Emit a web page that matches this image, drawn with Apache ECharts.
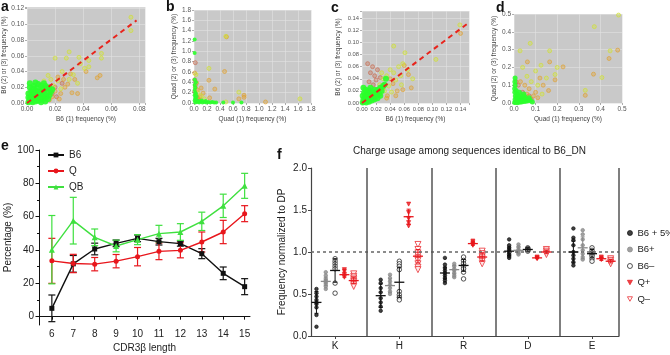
<!DOCTYPE html>
<html lang="en">
<head>
<meta charset="UTF-8">
<style>
html, body { height: 100%; margin: 0; background: #fff; }
</style>
</head>
<body>
<div id="chart" style="width:670px;height:355px;"></div>
<script src="https://cdn.jsdelivr.net/npm/echarts@6/dist/echarts.min.js"></script>
<script>
// ---- panel a-d: frequency scatter ----
var greenA = [[0.001,0.001],[0.002,0.002],[0.003,0.003],[0.004,0.004],[0.005,0.005],[0.006,0.006],[0.007,0.008],[0.008,0.009],[0.009,0.011],[0.010,0.012],[0.011,0.014],[0.012,0.015],[0.013,0.017],[0.014,0.019],
  [0.002,0.005],[0.003,0.008],[0.004,0.011],[0.005,0.013],[0.006,0.016],[0.007,0.019],[0.003,0.015],[0.002,0.020],[0.005,0.022],[0.008,0.024],[0.001,0.012],[0.001,0.007],
  [0.004,0.001],[0.006,0.002],[0.008,0.003],[0.010,0.004],[0.012,0.006],[0.014,0.008],[0.016,0.010],[0.017,0.014],[0.015,0.013],[0.013,0.010],[0.011,0.008],[0.009,0.006],[0.007,0.004],
  [0.009,0.015],[0.011,0.019],[0.013,0.022],[0.010,0.001],[0.013,0.002],[0.015,0.005],[0.006,0.012],[0.008,0.014],[0.004,0.018],[0.010,0.022],[0.016,0.020],[0.018,0.017],[0.012,0.025],[0.006,0.026],[0.002,0.025]];
var yellowA = [[0.074,0.109],[0.074,0.092],[0.053,0.063],[0.053,0.057],[0.044,0.054],[0.044,0.046],[0.037,0.058],[0.038,0.050],[0.030,0.065],[0.028,0.057],[0.036,0.025],[0.020,0.057],[0.025,0.040],[0.017,0.030],[0.015,0.035],[0.022,0.028],[0.019,0.022],[0.012,0.028],[0.024,0.018],[0.030,0.030],[0.033,0.036],[0.041,0.044]];
var orangeA = [[0.050,0.032],[0.052,0.035],[0.036,0.012],[0.032,0.013],[0.027,0.020],[0.024,0.012],[0.022,0.033],[0.029,0.024],[0.031,0.037],[0.026,0.030],[0.020,0.015],[0.018,0.008],[0.034,0.030],[0.042,0.040],[0.023,0.005],[0.016,0.004]];
var redA = [[0.014,0.010],[0.018,0.012],[0.012,0.004],[0.020,0.020],[0.016,0.018],[0.021,0.008],[0.010,0.016],[0.025,0.025]];
var fitA = [[0,0],[0.078,0.105]];

var greenB = [[0.02,0.01],[0.05,0.02],[0.08,0.01],[0.10,0.03],[0.13,0.01],[0.16,0.02],[0.19,0.01],[0.22,0.02],[0.25,0.01],[0.28,0.02],[0.31,0.01],[0.34,0.01],[0.04,0.05],[0.07,0.04],[0.12,0.05],[0.18,0.04],[0.45,0.01],[0.60,0.01],[0.73,0.01],
  [0.01,0.05],[0.02,0.10],[0.01,0.15],[0.02,0.20],[0.01,0.25],[0.02,0.30],[0.01,0.35],[0.03,0.40],[0.01,0.45],[0.02,0.08],[0.04,0.12],[0.03,0.18],[0.01,0.97],[0.01,1.23]];
var yellowB = [[0.49,1.29],[0.23,0.67],[0.69,0.21],[0.49,0.02],[1.63,0.08],[0.16,0.08],[0.11,0.14],[0.06,0.20],[0.03,0.55]];
var orangeB = [[0.50,1.28],[0.47,0.61],[0.23,0.44],[0.32,0.27],[0.11,0.29],[0.14,0.19],[0.09,0.12],[0.24,0.10],[0.77,0.15],[0.77,0.11],[0.69,0.08],[1.10,0.02],[0.01,0.58],[0.04,0.39],[0.02,0.30],[0.05,0.25],[0.08,0.06]];
var redB = [[0.02,0.78],[0.01,0.45],[0.02,0.35],[0.01,0.22],[0.03,0.15],[0.06,0.10],[0.04,0.05]];

var greenC = [[0.001,0.001],[0.003,0.002],[0.005,0.004],[0.007,0.006],[0.009,0.008],[0.011,0.010],[0.013,0.012],[0.015,0.014],[0.017,0.016],[0.019,0.018],[0.021,0.020],[0.023,0.022],
  [0.002,0.006],[0.004,0.010],[0.006,0.014],[0.008,0.018],[0.010,0.021],[0.003,0.017],[0.001,0.012],[0.005,0.022],[0.012,0.025],[0.002,0.025],
  [0.006,0.001],[0.010,0.002],[0.014,0.004],[0.018,0.006],[0.022,0.008],[0.026,0.012],[0.016,0.009],[0.012,0.006],[0.020,0.012],[0.024,0.016],[0.028,0.020],[0.030,0.028],[0.026,0.025],[0.018,0.022],[0.008,0.012],[0.014,0.018],[0.034,0.040],[0.032,0.030]];
var yellowC = [[0.139,0.129],[0.105,0.072],[0.045,0.094],[0.061,0.083],[0.058,0.065],[0.052,0.060],[0.045,0.050],[0.040,0.055],[0.035,0.045],[0.030,0.040],[0.048,0.038],[0.056,0.030],[0.038,0.028],[0.065,0.055],[0.072,0.040],[0.028,0.050],[0.025,0.030],[0.032,0.020],[0.042,0.018],[0.055,0.045]];
var orangeC = [[0.140,0.115],[0.060,0.062],[0.066,0.047],[0.050,0.020],[0.044,0.032],[0.036,0.012],[0.030,0.025],[0.058,0.022],[0.040,0.040],[0.025,0.015],[0.020,0.020],[0.048,0.012],[0.070,0.025],[0.035,0.008]];
var redC = [[0.008,0.065],[0.015,0.060],[0.012,0.050],[0.018,0.045],[0.010,0.035],[0.020,0.038],[0.022,0.055],[0.016,0.030],[0.026,0.042]];
var fitC = [[0,0],[0.152,0.133]];

var greenD = [[0.003,0.003],[0.008,0.005],[0.013,0.008],[0.018,0.012],[0.023,0.016],[0.028,0.020],[0.033,0.024],[0.038,0.028],[0.043,0.032],[0.050,0.036],
  [0.005,0.020],[0.006,0.040],[0.004,0.060],[0.003,0.080],[0.005,0.100],[0.004,0.120],[0.005,0.140],[0.012,0.030],[0.015,0.050],[0.010,0.070],[0.020,0.040],[0.025,0.060],
  [0.015,0.002],[0.025,0.004],[0.035,0.006],[0.045,0.008],[0.055,0.010],[0.065,0.012],[0.040,0.015],[0.030,0.010],[0.060,0.020],[0.050,0.025],[0.020,0.025],[0.035,0.040],[0.045,0.050],[0.075,0.015],[0.085,0.005],[0.070,0.030]];
var yellowD = [[0.484,0.494],[0.372,0.429],[0.445,0.293],[0.407,0.143],[0.330,0.071],[0.165,0.293],[0.125,0.212],[0.028,0.293],[0.075,0.335],[0.100,0.180],[0.150,0.140],[0.190,0.160],[0.060,0.150],[0.110,0.100],[0.080,0.120],[0.130,0.050],[0.200,0.200],[0.040,0.200]];
var orangeD = [[0.480,0.297],[0.440,0.250],[0.368,0.162],[0.330,0.043],[0.227,0.203],[0.165,0.231],[0.190,0.130],[0.062,0.231],[0.135,0.100],[0.100,0.060],[0.070,0.080],[0.050,0.100],[0.120,0.140],[0.090,0.040],[0.030,0.120],[0.060,0.050],[0.160,0.070],[0.110,0.030]];
var redD = [[0.020,0.100],[0.040,0.060],[0.030,0.030],[0.050,0.020],[0.080,0.020],[0.010,0.120],[0.070,0.040]];

// ---- panel e: CDR3 length ----
var lengths = [6, 7, 8, 9, 10, 11, 12, 13, 14, 15];
var b6Mean = [5, 31.7, 40.6, 44, 47, 45, 43.8, 37.8, 26, 18];
var b6Err = [8, 5, 3.5, 2, 2, 2, 1.5, 3, 3.8, 4.8];
var qMean = [33.5, 31.9, 31.5, 33.3, 36, 39.2, 39.8, 44.8, 50.8, 61.8];
var qErr = [13.5, 5.5, 4, 4, 5.5, 5, 4.5, 6, 7, 4.8];
var qbMean = [40.2, 57.6, 47.6, 42.4, 46.2, 49.8, 50.8, 57.2, 66.5, 78.5];
var qbErr = [20.5, 14, 5, 3.5, 3, 5, 5, 5.5, 7, 7.5];
var eTicks = [0, 20, 40, 60, 80, 100];
var eMinor = [10, 30, 50, 70, 90];

// ---- panel f: charge usage (one list per residue: K, H, R, D, E) ----
var fCats = ['K', 'H', 'R', 'D', 'E'];
var fGroups = ['B6 + 5%', 'B6+', 'B6\u2013', 'Q+', 'Q\u2013'];
var fB6p5 = [[0.56,0.51,0.47,0.43,0.40,0.38,0.34,0.25,0.11],[0.67,0.63,0.57,0.52,0.45,0.40,0.35,0.30],[0.93,0.85,0.81,0.78,0.75,0.72,0.69,0.66,0.63],[1.15,1.08,1.05,1.03,1.01,0.99,0.97,0.95,0.93],[1.28,1.17,1.14,1.08,1.00,0.96,0.92,0.88,0.84]];
var fB6pos = [[0.76,0.72,0.68,0.66,0.64,0.62,0.59,0.56],[0.73,0.69,0.65,0.61,0.57,0.53,0.50],[0.86,0.83,0.80,0.78,0.75,0.72,0.70],[1.09,1.06,1.03,1.01,0.99,0.97],[1.26,1.21,1.15,1.08,1.02,0.98,0.94,0.91]];
var fB6neg = [[0.92,0.89,0.86,0.83,0.80,0.63,0.51],[0.89,0.86,0.83,0.79,0.53,0.49,0.46,0.43],[0.94,0.90,0.86,0.83,0.80,0.76,0.68],[1.05,1.04,1.03,1.02,1.01],[1.05,1.02,0.99,0.97,0.95,0.92,0.89]];
var fQpos = [[0.79,0.77,0.73,0.70],[1.57,1.47,1.40,1.35,1.31],[1.13,1.11,1.09,1.08],[0.94,0.93,0.92],[0.94,0.92,0.91]];
var fQneg = [[0.74,0.71,0.69,0.67,0.65,0.63,0.61,0.59],[1.09,1.03,0.99,0.96,0.93,0.90,0.86,0.82,0.79],[1.01,0.98,0.95,0.93,0.91,0.89,0.86],[1.03,1.01,0.99,0.97],[0.92,0.90,0.88,0.86]];
var fMean = [[0.40,0.48,0.75,1.01,1.00],[0.65,0.60,0.79,1.02,1.05],[0.78,0.64,0.84,1.03,0.98],[0.73,1.42,1.10,0.93,0.92],[0.66,0.95,0.94,1.00,0.89]];
var fSd = [[0.13,0.14,0.07,0.05,0.13],[0.05,0.08,0.05,0.04,0.13],[0.14,0.18,0.07,0.02,0.05],[0.03,0.09,0.02,0.01,0.02],[0.04,0.08,0.05,0.02,0.02]];

var FONT = 'Liberation Sans, Arial, sans-serif';
var TRI_DOWN = 'path://M0,0L10,0L5,9Z';
var myChart = echarts.init(document.getElementById('chart'));

// scatter panel layout
var panels = [
    { grid: {left: 27, top: 7, width: 118, height: 96}, xMax: 0.084, yMax: 0.122, step: 0.02, d: 2, fs: 6.5, xName: 'B6 (1) frequency (%)', yName: 'B6 (2) or (3) frequency (%)', yGap: 18, gSize: 6,
      green: greenA, yellow: yellowA, orange: orangeA, red: redA, fit: fitA },
    { grid: {left: 194, top: 10, width: 117, height: 93}, xMax: 1.8, yMax: 1.8, step: 0.2, d: 1, fs: 6.5, xName: 'Quad (1) frequency (%)', yName: 'Quad (2) or (3) frequency (%)', yGap: 16, gSize: 4,
      green: greenB, yellow: yellowB, orange: orangeB, red: redB },
    { grid: {left: 362, top: 11, width: 107, height: 92}, xMax: 0.152, yMax: 0.152, step: 0.02, d: 2, fs: 5.8, xName: 'B6 (1) frequency (%)', yName: 'B6 (2) or (3) frequency (%)', yGap: 20, gSize: 6,
      green: greenC, yellow: yellowC, orange: orangeC, red: redC, fit: fitC },
    { grid: {left: 514, top: 14, width: 108, height: 89}, xMax: 0.5, yMax: 0.5, step: 0.1, d: 1, fs: 6.5, xName: 'Quad (1) frequency (%)', yName: 'Quad (2) or (3) frequency (%)', yGap: 15, gSize: 5,
      green: greenD, yellow: yellowD, orange: orangeD, red: redD }
];

var grids = [], xAxes = [], yAxes = [], series = [];

function tickFmt(step, d) {
    return function (v) {
        var r = v / step;
        return Math.abs(r - Math.round(r)) < 1e-6 ? v.toFixed(d) : '';
    };
}

function dots(name, data, idx, color, fill, size) {
    return {
        name: name, type: 'scatter', xAxisIndex: idx, yAxisIndex: idx, data: data,
        symbolSize: size, silent: true,
        itemStyle: {color: fill, borderColor: color, borderWidth: 0.8}
    };
}

panels.forEach(function (p, i) {
    grids.push(Object.assign({show: true, backgroundColor: '#c9c9c9', borderWidth: 0, outerBoundsMode: 'none'}, p.grid));
    var ax = {
        gridIndex: i, type: 'value', min: 0, interval: p.step,
        nameLocation: 'middle', nameTextStyle: {fontSize: 6.5, color: '#444', fontFamily: FONT},
        axisLine: {show: false},
        axisTick: {show: true, length: 2, lineStyle: {color: '#777', width: 0.6}},
        axisLabel: {fontSize: p.fs, color: '#555', margin: 3, fontFamily: FONT, hideOverlap: false, formatter: tickFmt(p.step, p.d)},
        splitLine: {show: true, lineStyle: {color: '#e2e2e2', width: 0.6}}
    };
    xAxes.push(Object.assign({}, ax, {max: p.xMax, name: p.xName, nameGap: 13}));
    yAxes.push(Object.assign({}, ax, {max: p.yMax, name: p.yName, nameGap: p.yGap}));
    series.push(dots('red' + i, p.red, i, '#c86a50', 'rgba(200,110,80,0.45)', 4));
    series.push(dots('orange' + i, p.orange, i, '#e0a030', 'rgba(224,160,48,0.45)', 4));
    series.push(dots('yellow' + i, p.yellow, i, '#cfe030', 'rgba(210,230,60,0.45)', 4));
    series.push({
        name: 'green' + i, type: 'scatter', xAxisIndex: i, yAxisIndex: i, data: p.green,
        symbolSize: p.gSize, silent: true, itemStyle: {color: '#2bff2b', opacity: 0.9}
    });
    if (p.fit) {
        series.push({
            name: 'fit' + i, type: 'line', xAxisIndex: i, yAxisIndex: i, data: p.fit,
            symbol: 'none', silent: true,
            lineStyle: {color: '#e8241c', width: 2, type: [5, 4]}
        });
    }
});

// ---- panel e ----
var E = grids.length;
grids.push({left: 39, top: 150, width: 211, height: 175, outerBoundsMode: 'none'});
xAxes.push({
    gridIndex: E, type: 'value', min: 5.4, max: 15.25,
    name: 'CDR3\u03b2 length', nameLocation: 'middle', nameGap: 18,
    nameTextStyle: {fontSize: 10, color: '#222', fontFamily: FONT},
    axisLine: {lineStyle: {color: '#111', width: 1}},
    axisTick: {length: 3, customValues: lengths, lineStyle: {color: '#111'}},
    axisLabel: {fontSize: 10, color: '#222', margin: 4, customValues: lengths, fontFamily: FONT},
    splitLine: {show: false}
});
yAxes.push({
    gridIndex: E, type: 'value', min: -5, max: 100, position: 'left',
    name: 'Percentage (%)', nameLocation: 'middle', nameGap: 24,
    nameTextStyle: {fontSize: 10, color: '#222', fontFamily: FONT},
    axisLine: {show: true, lineStyle: {color: '#111', width: 1}},
    axisTick: {length: 3.5, customValues: eTicks, lineStyle: {color: '#111'}},
    axisLabel: {fontSize: 10, color: '#222', margin: 5, customValues: eTicks, fontFamily: FONT},
    splitLine: {show: false}
});
yAxes.push({
    gridIndex: E, type: 'value', min: -5, max: 100, position: 'left', offset: 0,
    axisLine: {show: false},
    axisTick: {length: 2, customValues: eMinor, lineStyle: {color: '#111'}},
    axisLabel: {show: false},
    splitLine: {show: false}
});

function pairs(xs, ys) {
    return xs.map(function (x, k) { return [x, ys[k]]; });
}

function errRender(color, cap) {
    return function (params, api) {
        var x = api.value(0), m = api.value(1), e = api.value(2);
        var top = api.coord([x, m + e]);
        var bot = api.coord([x, m - e]);
        var st = {stroke: color, lineWidth: 1.2};
        return {
            type: 'group', children: [
                {type: 'line', shape: {x1: top[0], y1: top[1], x2: bot[0], y2: bot[1]}, style: st},
                {type: 'line', shape: {x1: top[0] - cap, y1: top[1], x2: top[0] + cap, y2: top[1]}, style: st},
                {type: 'line', shape: {x1: bot[0] - cap, y1: bot[1], x2: bot[0] + cap, y2: bot[1]}, style: st}
            ]
        };
    };
}

var eSeries = [
    {name: 'B6', mean: b6Mean, err: b6Err, color: '#111111', symbol: 'rect', size: 5},
    {name: 'Q', mean: qMean, err: qErr, color: '#e8161c', symbol: 'circle', size: 5},
    {name: 'QB', mean: qbMean, err: qbErr, color: '#3fe03f', symbol: 'triangle', size: 6}
];
eSeries.forEach(function (s) {
    series.push({
        name: s.name + ' err', type: 'custom', xAxisIndex: E, yAxisIndex: E, silent: true,
        renderItem: errRender(s.color, 3.5),
        data: lengths.map(function (x, k) { return [x, s.mean[k], s.err[k]]; }),
        z: 2
    });
    series.push({
        name: s.name, type: 'line', xAxisIndex: E, yAxisIndex: E, data: pairs(lengths, s.mean),
        symbol: s.symbol, symbolSize: s.size, showSymbol: true, silent: true,
        lineStyle: {color: s.color, width: 1.4}, itemStyle: {color: s.color}, z: 3
    });
});

// ---- panel f ----
var F = grids.length;
var FY = yAxes.length;
var fPos = [1, 2, 3, 4, 5];
grids.push({left: 311, top: 168, width: 308, height: 168, outerBoundsMode: 'none'});
xAxes.push({
    gridIndex: F, type: 'value', min: 0.625, max: 5.42,
    axisLine: {lineStyle: {color: '#444', width: 1.2}},
    axisTick: {length: 3, customValues: fPos, lineStyle: {color: '#444'}},
    axisLabel: {fontSize: 10, color: '#222', margin: 5, customValues: fPos, fontFamily: FONT,
        formatter: function (v) { return fCats[Math.round(v) - 1]; }},
    splitLine: {show: false}
});
yAxes.push({
    gridIndex: F, type: 'value', min: 0, max: 2, interval: 0.5, position: 'left',
    name: 'Frequency normalized to DP', nameLocation: 'middle', nameGap: 24,
    nameTextStyle: {fontSize: 10, color: '#222', fontFamily: FONT},
    axisLine: {show: true, lineStyle: {color: '#444', width: 1.2}},
    axisTick: {length: 3, lineStyle: {color: '#444'}},
    axisLabel: {fontSize: 10, color: '#222', margin: 4, fontFamily: FONT, formatter: function (v) { return v.toFixed(1); }},
    splitLine: {show: false}
});

var fSets = [
    {vals: fB6p5, color: '#111111', fill: '#111111', symbol: 'circle', size: 3.5},
    {vals: fB6pos, color: '#8a8a8a', fill: '#8a8a8a', symbol: 'circle', size: 3.5},
    {vals: fB6neg, color: '#111111', fill: '#ffffff', symbol: 'circle', size: 4.5},
    {vals: fQpos, color: '#e8161c', fill: '#e8161c', symbol: TRI_DOWN, size: 4},
    {vals: fQneg, color: '#e8161c', fill: '#ffffff', symbol: TRI_DOWN, size: 6}
];

function fRender(color) {
    return function (params, api) {
        var x = api.value(0), m = api.value(1), e = api.value(2);
        var top = api.coord([x, m + e]);
        var bot = api.coord([x, m - e]);
        var mid = api.coord([x, m]);
        var st = {stroke: color, lineWidth: 1};
        return {
            type: 'group', children: [
                {type: 'line', shape: {x1: top[0], y1: top[1], x2: bot[0], y2: bot[1]}, style: st},
                {type: 'line', shape: {x1: top[0] - 2, y1: top[1], x2: top[0] + 2, y2: top[1]}, style: st},
                {type: 'line', shape: {x1: bot[0] - 2, y1: bot[1], x2: bot[0] + 2, y2: bot[1]}, style: st},
                {type: 'line', shape: {x1: mid[0] - 5, y1: mid[1], x2: mid[0] + 5, y2: mid[1]}, style: {stroke: color, lineWidth: 1.3}}
            ]
        };
    };
}

fSets.forEach(function (g, gi) {
    var off = (gi - 2) * 0.145;
    var pts = [];
    g.vals.forEach(function (list, ci) {
        list.forEach(function (v) { pts.push([fPos[ci] + off, v]); });
    });
    series.push({
        name: fGroups[gi], type: 'scatter', xAxisIndex: F, yAxisIndex: FY, data: pts,
        symbol: g.symbol, symbolSize: g.size, silent: true,
        itemStyle: {color: g.fill, borderColor: g.color, borderWidth: 0.9}, z: 4
    });
    series.push({
        name: fGroups[gi] + ' err', type: 'custom', xAxisIndex: F, yAxisIndex: FY, silent: true,
        renderItem: fRender(g.color),
        data: fPos.map(function (x, ci) { return [x + off, fMean[gi][ci], fSd[gi][ci]]; }),
        z: 5
    });
});

// reference line at 1.0 and residue dividers
series.push({
    name: 'guides', type: 'line', xAxisIndex: F, yAxisIndex: FY, data: [], silent: true,
    markLine: {
        symbol: 'none', silent: true, label: {show: false},
        data: [
            {yAxis: 1, lineStyle: {type: [3, 3], color: '#666', width: 1.5}},
            {xAxis: 1.5}, {xAxis: 2.5}, {xAxis: 3.5}, {xAxis: 4.5}, {xAxis: 5.42}
        ],
        lineStyle: {type: 'solid', color: '#555', width: 1.5}
    }
});

function letter(t, x, y) {
    return {type: 'text', left: x, top: y, style: {text: t, fill: '#111', font: 'bold 14px ' + FONT}};
}

var fLegend = fSets.map(function (g, gi) {
    return {
        name: fGroups[gi], icon: g.symbol,
        itemStyle: {color: g.fill, borderColor: g.color, borderWidth: 0.9}
    };
});

myChart.setOption({
    animation: false,
    textStyle: {fontFamily: FONT},
    grid: grids,
    xAxis: xAxes,
    yAxis: yAxes,
    legend: [
        {
            data: ['B6', 'Q', 'QB'], orient: 'vertical', left: 47, top: 150, padding: 0,
            itemWidth: 16, itemHeight: 6, itemGap: 6,
            textStyle: {fontSize: 10, color: '#222', fontFamily: FONT}
        },
        {
            data: fLegend, orient: 'vertical', left: 627, top: 228, padding: 0,
            itemWidth: 5, itemHeight: 5, itemGap: 6.5,
            textStyle: {fontSize: 9.5, color: '#222', fontFamily: FONT}
        }
    ],
    title: {
        text: 'Charge usage among sequences identical to B6_DN',
        left: 353, top: 146, padding: 0,
        textStyle: {fontSize: 10, fontWeight: 'normal', color: '#222', fontFamily: FONT}
    },
    graphic: [
        letter('a', 1, 0), letter('b', 166, 0), letter('c', 331, 1), letter('d', 496, 1),
        letter('e', 1, 139), letter('f', 277, 148)
    ],
    series: series
});
</script>
</body>
</html>
